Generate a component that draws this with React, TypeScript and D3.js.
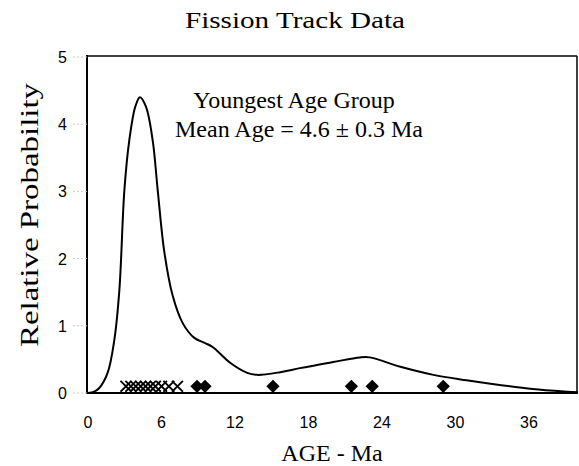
import React from "react";
import * as d3 from "d3";

const curveAge = [0, 0.5, 0.9, 1.6, 2.15, 2.56, 2.97, 3.37, 3.86, 4.24, 4.73, 5.28, 5.69, 6.23, 6.91, 7.73, 8.68, 9.6, 10.2, 11.6, 13, 13.8, 15.7, 17.3, 20, 22.2, 23, 25.5, 28.2, 30.9, 33.6, 36.3, 39.1, 40];
const curveProb = [0, 0.02, 0.07, 0.3, 0.79, 1.53, 3.02, 3.76, 4.26, 4.4, 4.26, 3.76, 3.02, 2.1, 1.45, 1.04, 0.82, 0.74, 0.68, 0.45, 0.3, 0.27, 0.31, 0.37, 0.46, 0.53, 0.53, 0.39, 0.27, 0.19, 0.12, 0.06, 0.02, 0.01];
const youngAges = [3.1, 3.5, 3.9, 4.3, 4.7, 5.1, 5.5, 6.0, 6.6, 7.3];
const olderAges = [8.9, 9.55, 15.1, 21.5, 23.2, 29.0];
const markerLevel = 0.1;
const xTicks = [0, 6, 12, 18, 24, 30, 36];
const yTicks = [0, 1, 2, 3, 4, 5];

const W = 579, H = 466;
const L = 87, R = 578, T = 56, B = 393;

export default function App() {
  const x = d3.scaleLinear().domain([0, 40]).range([88, R]);
  const y = d3.scaleLinear().domain([0, 5]).range([B, T + 1]);
  const pts: [number, number][] = curveAge.map((a, i) => [a, curveProb[i]]);
  const line = d3.line<[number, number]>().x(d => x(d[0])).y(d => y(d[1])).curve(d3.curveCatmullRom.alpha(0.5));
  const timesPath = d3.symbol().type(d3.symbolTimes).size(80)() as string;
  const squarePath = d3.symbol().type(d3.symbolSquare).size(88)() as string;
  const serif = "'Liberation Serif', 'Times New Roman', serif";
  const sans = "'Liberation Sans', Arial, sans-serif";
  return (
    <svg width={W} height={H} style={{ position: "absolute", left: 0, top: 0, background: "#fff" }}>
      <text x={295} y={28} textAnchor="middle" fontFamily={serif} fontSize={24} textLength={220} lengthAdjust="spacingAndGlyphs">Fission Track Data</text>
      <text transform={`translate(38,215) rotate(-90)`} textAnchor="middle" fontFamily={serif} fontSize={25} textLength={264} lengthAdjust="spacingAndGlyphs">Relative Probability</text>
      <text x={332} y={461} textAnchor="middle" fontFamily={serif} fontSize={24}>AGE - Ma</text>
      <text x={294} y={108} textAnchor="middle" fontFamily={serif} fontSize={24}>Youngest Age Group</text>
      <text x={299} y={137} textAnchor="middle" fontFamily={serif} fontSize={24}>Mean Age = 4.6 ± 0.3 Ma</text>
      {/* frame */}
      <line x1={L} y1={T} x2={577} y2={T} stroke="#000" strokeWidth={1.5} />
      <line x1={577} y1={T} x2={577} y2={B} stroke="#000" strokeWidth={1.5} />
      <line x1={L} y1={T - 1} x2={L} y2={B + 1} stroke="#000" strokeWidth={2} />
      <line x1={L - 1} y1={B} x2={578} y2={B} stroke="#000" strokeWidth={2} />
      {yTicks.map(t => (
        <g key={"y" + t}>
          <line x1={L - 14} x2={L} y1={y(t)} y2={y(t)} stroke="#ccc" strokeWidth={1} strokeDasharray="2,2" />
          <text x={67} y={y(t) + 6} textAnchor="end" fontFamily={sans} fontSize={16}>{t}</text>
        </g>
      ))}
      {xTicks.map(t => (
        <text key={"x" + t} x={x(t)} y={428} textAnchor="middle" fontFamily={sans} fontSize={16}>{t}</text>
      ))}
      <path d={line(pts) || ""} fill="none" stroke="#000" strokeWidth={2} />
      {youngAges.map((a, i) => (
        <path key={"m" + i} d={timesPath} transform={`translate(${x(a)},${y(markerLevel)})`} fill="none" stroke="#000" strokeWidth={1.8} />
      ))}
      {olderAges.map((a, i) => (
        <path key={"d" + i} d={squarePath} transform={`translate(${x(a)},${y(markerLevel)}) rotate(45)`} fill="#000" />
      ))}
    </svg>
  );
}
